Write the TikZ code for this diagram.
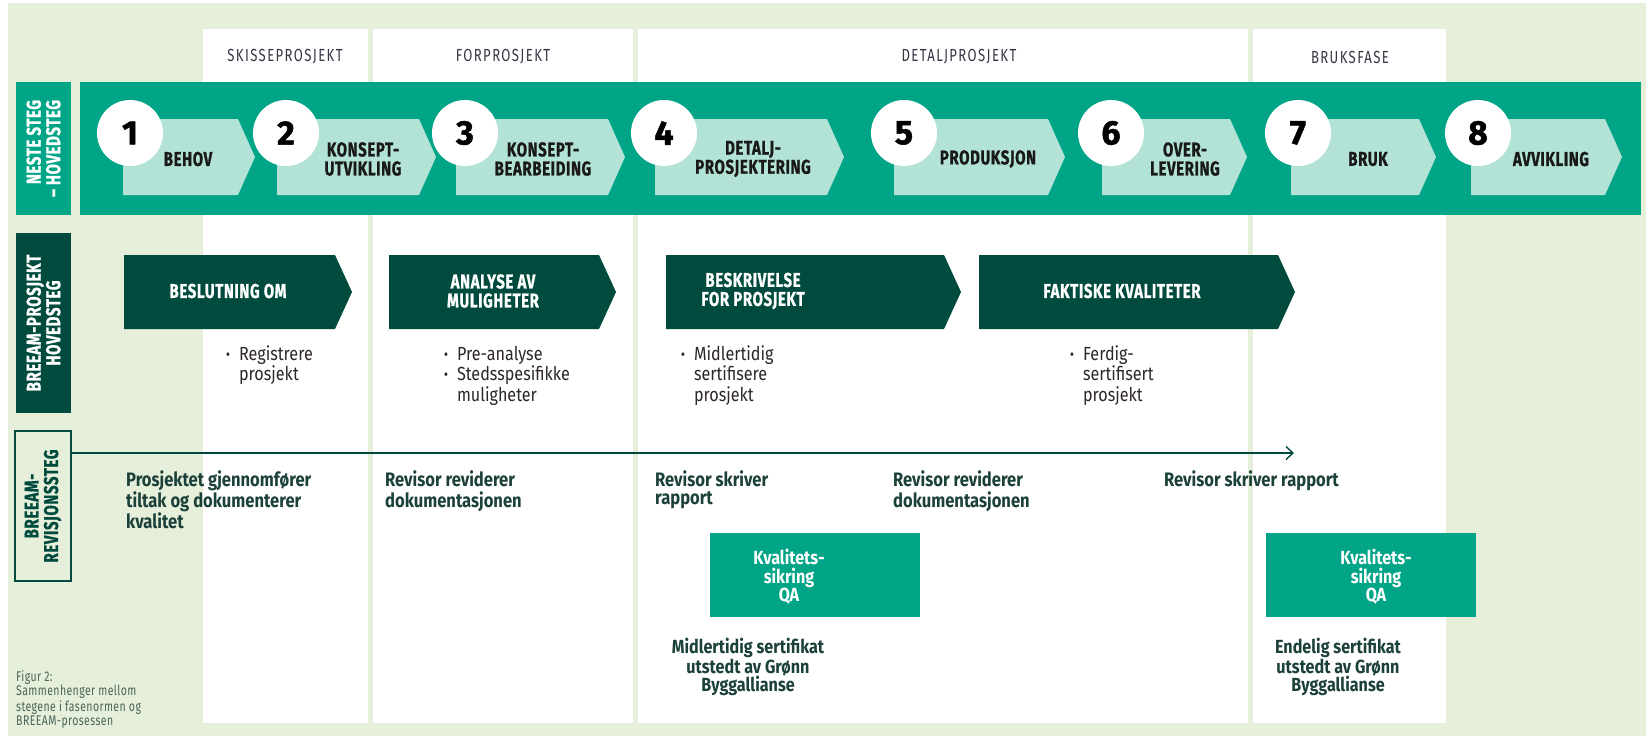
\documentclass[tikz,border=0pt]{standalone}
\usepackage{fontspec}
\setmainfont{Fira Sans}
\newfontfamily\capfont{Fira Sans}[FakeStretch=0.75, LetterSpace=3, BoldFeatures={FakeBold=0.8}]
\newfontfamily\phasefont{Fira Sans}[FakeStretch=0.75, LetterSpace=8]
\newfontfamily\runfont{Fira Sans}[FakeStretch=0.85]
\newfontfamily\numfont{Fira Sans}[BoldFeatures={FakeBold=1.5}]
\usetikzlibrary{arrows.meta}

\definecolor{bggreen}{RGB}{229,239,218}
\definecolor{bandgreen}{RGB}{0,165,135}
\definecolor{lightteal}{RGB}{179,227,214}
\definecolor{darkgreen}{RGB}{0,75,61}
\definecolor{inkgreen}{RGB}{28,64,58}
\definecolor{inkdark}{RGB}{45,40,38}
\definecolor{phasegray}{RGB}{55,55,70}
\definecolor{capgreen}{RGB}{75,100,88}

\newcommand{\bul}{\textbf{\textperiodcentered}}

\begin{document}
\begin{tikzpicture}[x=1pt, y=-1pt,
  phaselbl/.style={font=\phasefont\fontsize{17.5}{17.5}\selectfont, text=phasegray, inner sep=0},
  steptxt/.style={font=\capfont\bfseries\fontsize{20}{19}\selectfont, align=center, text=black!90, inner sep=0},
  stepnum/.style={circle, fill=white, minimum size=66, inner sep=0, font=\numfont\bfseries\fontsize{34}{34}\selectfont},
  sidebox/.style={rotate=90, inner sep=0, minimum height=55, font=\capfont\bfseries\fontsize{20}{19.5}\selectfont},
  goaltxt/.style={font=\capfont\bfseries\fontsize{20}{19}\selectfont, align=center, text=white, inner sep=0},
  listtxt/.style={font=\runfont\fontsize{19}{19.5}\selectfont, text=inkdark, inner sep=0, anchor=base west},
  revtxt/.style={font=\runfont\bfseries\fontsize{19.5}{18.5}\selectfont, text=inkgreen, inner sep=0, anchor=base west},
  qabox/.style={fill=bandgreen, minimum width=210, minimum height=84, inner sep=0, anchor=north west},
  qatxt/.style={font=\runfont\bfseries\fontsize{19}{18.5}\selectfont, align=center, text=white, inner sep=0},
  certtxt/.style={font=\runfont\bfseries\fontsize{19}{18.5}\selectfont, align=center, text=inkgreen, inner sep=0},
  captxt/.style={font=\capfont\fontsize{14}{14.3}\selectfont, text=capgreen, inner sep=0, anchor=base west}
]
\useasboundingbox (0,0) rectangle (1646,736);
\fill[bggreen] (8,3) rectangle (1646,736);

% faser
\foreach \a/\b/\x/\t [count=\i] in {203/368/285/SKISSEPROSJEKT, 373/633/503/FORPROSJEKT,
    638/1248/959/DETALJPROSJEKT, 1253/1446/1350/BRUKSFASE}{
  \fill[white] (\a,29) rectangle (\b,723);
  \node[phaselbl] (F\i) at (\x,57) {\t};
}

% neste steg
\fill[bandgreen] (80,82) rectangle (1641,215);
\node[sidebox, fill=bandgreen, text=white, minimum width=133, align=right] (L1) at (43.5,148.5) {NESTE STEG\\– HOVEDSTEG};
\foreach \n/\l/\r/\cx/\tx/\t in {1/123/238/130/188/BEHOV,
    2/277/419/286/363/{KONSEPT-\\UTVIKLING},
    3/456/608/465/543/{KONSEPT-\\BEARBEIDING},
    4/655/827/664/753/{DETALJ-\\PROSJEKTERING},
    5/894/1048/904/988/PRODUKSJON,
    6/1102/1230/1111/1185/{OVER-\\LEVERING},
    7/1291/1419/1298/1368/BRUK,
    8/1471/1605/1478/1551/AVVIKLING}{
  \fill[lightteal] (\l,119) -- (\r,119) -- (\r+17,157) -- (\r,195) -- (\l,195) -- cycle;
  \node[stepnum] (C\n) at (\cx,133) {\n};
  \node[steptxt] (S\n) at (\tx,159) {\t};
}

% breeam hovedsteg
\node[sidebox, fill=darkgreen, text=white, minimum width=180, align=center] (L2) at (43.5,323) {BREEAM-PROSJEKT\\HOVEDSTEG};
\foreach \l/\r/\tx/\t [count=\i] in {124/335/228/{BESLUTNING OM},
    389/599/493/{ANALYSE AV\\MULIGHETER},
    666/944/753/{BESKRIVELSE\\FOR PROSJEKT},
    979/1278/1122/{FAKTISKE KVALITETER}}{
  \fill[darkgreen] (\l,255) -- (\r,255) -- (\r+17,292) -- (\r,329) -- (\l,329) -- cycle;
  \node[goaltxt] (H\i) at (\tx,291) {\t};
}
\node[listtxt] (B1) at (226,360) {\begin{tabular}[t]{@{}l@{\hspace{9pt}}l@{}}\bul & Registrere\\ & prosjekt\end{tabular}};
\node[listtxt] (B2) at (444,360) {\begin{tabular}[t]{@{}l@{\hspace{9pt}}l@{}}\bul & Pre-analyse\\ \bul & Stedsspesifikke\\ & muligheter\end{tabular}};
\node[listtxt] (B3) at (681,360) {\begin{tabular}[t]{@{}l@{\hspace{9pt}}l@{}}\bul & Midlertidig\\ & sertifisere\\ & prosjekt\end{tabular}};
\node[listtxt] (B4) at (1070,360) {\begin{tabular}[t]{@{}l@{\hspace{9pt}}l@{}}\bul & Ferdig-\\ & sertifisert\\ & prosjekt\end{tabular}};

% revisjonssteg
\node[sidebox, draw=darkgreen, line width=1.5, text=darkgreen, minimum width=150, minimum height=56, align=center] (L3) at (43,506) {BREEAM-\\REVISJONSSTEG};
\coordinate (R0) at (71,453);
\coordinate (R1) at (1294,453);
\draw[darkgreen, line width=1.4, -{Straight Barb[length=7,width=13]}] (R0) -- (R1);

\node[revtxt] (V1) at (126,486) {\begin{tabular}[t]{@{}l@{}}Prosjektet gjennomfører\\tiltak og dokumenterer\\kvalitet\end{tabular}};
\node[revtxt] (V2) at (385,486) {\begin{tabular}[t]{@{}l@{}}Revisor reviderer\\dokumentasjonen\end{tabular}};
\node[revtxt] (V3) at (655,486) {\begin{tabular}[t]{@{}l@{}}Revisor skriver\\rapport\end{tabular}};
\node[revtxt] (V4) at (893,486) {\begin{tabular}[t]{@{}l@{}}Revisor reviderer\\dokumentasjonen\end{tabular}};
\node[revtxt] (V5) at (1164,486) {Revisor skriver rapport};

\node[qabox] (Q1) at (710,533) {};
\node[qatxt] (K1) at (789,577) {Kvalitets-\\sikring\\QA};
\node[qabox] (Q2) at (1266,533) {};
\node[qatxt] (K2) at (1376,577) {Kvalitets-\\sikring\\QA};
\node[certtxt] (M1) at (748,667) {Midlertidig sertifikat\\utstedt av Grønn\\Byggallianse};
\node[certtxt] (M2) at (1338,667) {Endelig sertifikat\\utstedt av Grønn\\Byggallianse};

\node[captxt] (FIG) at (16,681) {\begin{tabular}[t]{@{}l@{}}Figur 2:\\Sammenhenger mellom\\stegene i fasenormen og\\BREEAM-prosessen\end{tabular}};
\end{tikzpicture}
\end{document}
